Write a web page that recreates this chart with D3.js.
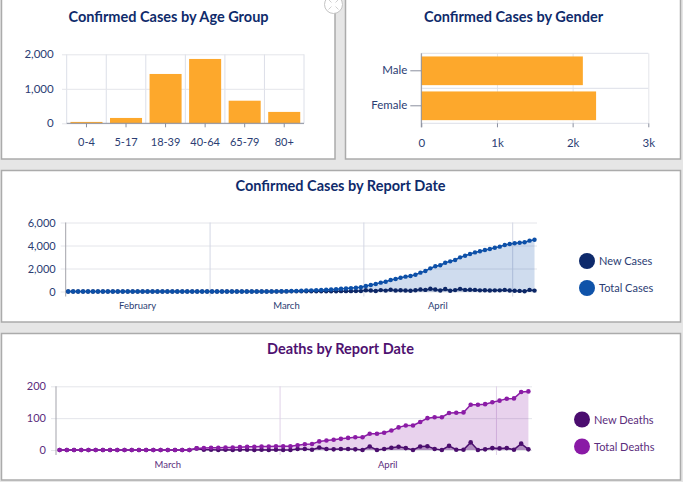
<!DOCTYPE html>
<html>
<head>
<meta charset="utf-8">
<script src="https://cdn.jsdelivr.net/npm/d3@7"></script>
<style>
  body { margin: 0; background: #e6e6e6; font-family: Lato, "Open Sans", sans-serif; }
  svg { display: block; }
  .grid line { stroke: #e4e5ea; }
  .grid path { display: none; }
</style>
</head>
<body>
<svg id="chart" width="683" height="482"></svg>
<script>
// ---- data ----
var ageGroups = ["0-4", "5-17", "18-39", "40-64", "65-79", "80+"];
var ageCases = [40, 155, 1430, 1865, 655, 330];
var ageTicks = [0, 1000, 2000];

var genders = ["Male", "Female"];
var genderCases = [2135, 2310];
var genderTicks = [0, 1000, 2000, 3000];

var caseTicks = [0, 2000, 4000, 6000];
var deathTicks = [0, 100, 200];
var caseMonths = ["2020-02-01", "2020-03-01", "2020-04-01", "2020-05-01"];
var deathMonths = ["2020-03-01", "2020-04-01", "2020-05-01"];
var axisEnd = "2020-05-06";

// daily, Feb 1 .. May 5
var casesStart = "2020-02-01";
var totalCases = [
  0,0,0,0,0,0,0,0,0,0,0,0,0,0,0,0,0,0,0,0,0,0,0,0,0,0,0,0,0,0,0,0,0,0,0,0,0,0,
  1,2,4,8,12,18,26,38,52,68,85,100,118,135,155,178,205,235,265,295,330,365,
  480,565,650,770,850,1000,1090,1200,1290,1350,1460,1640,1780,2015,2190,2280,2500,2620,2740,2970,
  3110,3260,3400,3500,3610,3700,3800,3900,4040,4130,
  4190,4240,4280,4420,4500
];
var newCases = [
  0,0,0,0,0,0,0,0,0,0,0,0,0,0,0,0,0,0,0,0,0,0,0,0,0,0,0,0,0,0,0,0,0,0,0,0,0,0,
  1,1,2,4,4,6,8,12,14,16,17,15,18,17,20,23,27,30,30,30,35,35,
  115,85,40,120,80,150,90,110,90,60,110,180,140,235,175,90,220,60,120,230,
  140,150,140,100,110,90,100,100,140,90,
  60,50,20,140,80
];

// daily, Mar 1 .. May 5
var deathsStart = "2020-03-01";
var totalDeaths = [
  0,0,0,0,0,0,0,0,0,0,0,0,0,0,0,0,0,0,0,
  5,6,7,7,8,8,9,10,10,11,11,12,
  12,12,15,18,19,27,30,32,35,38,40,40,51,51,54,61,71,77,77,88,
  100,103,103,116,117,118,142,142,144,150,155,161,162,182,184
];
var newDeaths = [
  0,0,0,0,0,0,0,0,0,0,0,0,0,0,0,0,0,0,0,
  5,1,1,0,1,0,1,1,0,1,0,1,
  0,0,3,3,1,8,3,2,3,3,2,0,11,0,3,7,10,6,0,11,
  12,3,0,13,1,1,24,0,2,6,5,6,1,20,2
];

var parse = d3.utcParse("%Y-%m-%d");
var svg = d3.select("#chart");

svg.append("rect").attr("width", 683).attr("height", 482).attr("fill", "#e6e6e6");

function panel(x, y, w, h) {
  svg.append("rect").attr("x", x).attr("y", y).attr("width", w).attr("height", h)
    .attr("fill", "#fff").attr("stroke", "#ababab").attr("stroke-width", 1.5);
}
panel(1.5, -3, 333.5, 162);
panel(345.5, -3, 335, 162);
panel(1.5, 170.5, 679, 151.5);
panel(1.5, 333.5, 679, 146.5);

function title(txt, x, y, color) {
  svg.append("text").attr("x", x).attr("y", y).attr("text-anchor", "middle")
    .attr("font-size", 14.5).attr("font-weight", 700).attr("fill", color).text(txt);
}

var navy = "#0f2b6b", navyTxt = "#2b3d73";
var orange = "#fda82c";

// ---------- age group ----------
(function () {
  var x = d3.scaleBand().domain(ageGroups).range([66.7, 304]).paddingInner(0.19).paddingOuter(0.095);
  var y = d3.scaleLinear().domain([0, 2000]).range([123.3, 54.3]);
  var g = svg.append("g");
  // band boundary gridlines
  var bounds = ageGroups.map(function (d) { return x(d) - x.step() * x.paddingInner() / 2; });
  bounds.push(304);
  g.selectAll("line.vg").data(bounds).join("line")
    .attr("x1", function (d) { return d; }).attr("x2", function (d) { return d; })
    .attr("y1", y(2000)).attr("y2", y(0)).attr("stroke", "#dcdfe8");
  g.append("g").attr("class", "grid").attr("transform", "translate(304,0)")
    .call(d3.axisLeft(y).tickValues(ageTicks).tickSize(242).tickFormat(""));
  g.selectAll("rect.bar").data(ageCases).join("rect")
    .attr("x", function (d, i) { return x(ageGroups[i]); })
    .attr("width", x.bandwidth())
    .attr("y", function (d) { return y(d); })
    .attr("height", function (d) { return y(0) - y(d); })
    .attr("fill", orange);
  g.append("line").attr("x1", 66.7).attr("x2", 304).attr("y1", y(0)).attr("y2", y(0)).attr("stroke", "#8a8f9e");
  var xa = g.append("g").attr("transform", "translate(0," + y(0) + ")")
    .call(d3.axisBottom(x).tickSize(4).tickPadding(11).tickSizeOuter(0));
  xa.select(".domain").remove();
  xa.selectAll("line").attr("stroke", "#8a8f9e");
  xa.selectAll("text").attr("font-size", 11).attr("fill", navyTxt).attr("font-family", "Lato");
  var ya = g.append("g").attr("transform", "translate(66.7,0)")
    .call(d3.axisLeft(y).tickValues(ageTicks).tickSize(0).tickPadding(13).tickFormat(d3.format(",")));
  ya.select(".domain").remove();
  ya.selectAll("text").attr("font-size", 11.5).attr("fill", navyTxt).attr("font-family", "Lato");
  title("Confirmed Cases by Age Group", 168.5, 22, navy);
})();

// ---------- gender ----------
(function () {
  var x = d3.scaleLinear().domain([0, 3000]).range([421.3, 648.3]);
  var y = d3.scaleBand().domain(genders).range([53.3, 123.3]).paddingInner(0.18).paddingOuter(0.09);
  var g = svg.append("g");
  g.append("g").attr("class", "grid").attr("transform", "translate(0,123.3)")
    .call(d3.axisBottom(x).tickValues(genderTicks).tickSize(-70).tickFormat(""));
  g.selectAll("line.hg").data([53.3, 88.3, 123.3]).join("line")
    .attr("x1", 421.3).attr("x2", 648.3).attr("y1", function (d) { return d; }).attr("y2", function (d) { return d; })
    .attr("stroke", "#dcdfe8");
  g.selectAll("rect.bar").data(genderCases).join("rect")
    .attr("x", x(0))
    .attr("y", function (d, i) { return y(genders[i]); })
    .attr("height", y.bandwidth())
    .attr("width", function (d) { return x(d) - x(0); })
    .attr("fill", orange);
  var xa = g.append("g").attr("transform", "translate(0,123.3)")
    .call(d3.axisBottom(x).tickValues(genderTicks).tickSize(4).tickPadding(12).tickSizeOuter(0)
      .tickFormat(function (d) { return d === 0 ? "0" : (d / 1000) + "k"; }));
  xa.select(".domain").remove();
  xa.selectAll("line").attr("stroke", "#8a8f9e");
  xa.selectAll("text").attr("font-size", 11.5).attr("fill", navyTxt).attr("font-family", "Lato");
  var ya = g.append("g").attr("transform", "translate(421.3,0)")
    .call(d3.axisLeft(y).tickSize(11).tickPadding(3).tickSizeOuter(0));
  ya.select(".domain").attr("stroke", "#8a8f9e").attr("d", "M0,53.3V127.3");
  ya.selectAll("line").attr("stroke", "#8a8f9e");
  ya.selectAll("text").attr("font-size", 11.5).attr("fill", navyTxt).attr("font-family", "Lato");
  title("Confirmed Cases by Gender", 513.5, 22, navy);
})();

// ---------- time series ----------
function timeChart(o) {
  var start = parse(o.start);
  var dates = o.total.map(function (d, i) { return d3.utcHour.offset(d3.utcDay.offset(start, i), 12); });
  var months = o.months.map(parse);
  var x = d3.scaleUtc().domain([months[0], parse(axisEnd)]).range(o.xr);
  var y = d3.scaleLinear().domain([0, o.ymax]).range(o.yr);
  var g = svg.append("g");

  g.append("g").attr("class", "grid").attr("transform", "translate(" + o.xr[1] + ",0)")
    .call(d3.axisLeft(y).tickValues(o.yticks).tickSize(o.xr[1] - o.xr[0] + 5).tickFormat(""));
  var vg = g.append("g").attr("transform", "translate(0," + (o.yr[0] + 5) + ")")
    .call(d3.axisBottom(x).tickValues(months.slice(1)).tickSize(-(o.yr[0] - o.yr[1] + 5)).tickFormat(""));
  vg.select(".domain").remove();
  vg.selectAll("line").attr("stroke", o.vgrid);

  // month labels, centred in each month cell
  var cells = months.map(function (m, i) {
    var end = i + 1 < months.length ? months[i + 1] : parse(axisEnd);
    return { name: d3.utcFormat("%B")(m), mid: (x(m) + x(end)) / 2, w: x(end) - x(m) };
  }).filter(function (c) { return c.w > 60; });
  g.selectAll("text.month").data(cells).join("text")
    .attr("x", function (d) { return d.mid; }).attr("y", o.yr[0] + 17.5)
    .attr("text-anchor", "middle").attr("font-size", 9.5).attr("fill", o.txt).text(function (d) { return d.name; });

  var ya = g.append("g").attr("transform", "translate(" + o.xr[0] + ",0)")
    .call(d3.axisLeft(y).tickValues(o.yticks).tickSize(0).tickPadding(10).tickFormat(d3.format(",")));
  ya.select(".domain").attr("stroke", "#a3a3ab").attr("d", "M0," + o.yr[1] + "V" + (o.yr[0] + 5));
  ya.selectAll("text").attr("font-size", 11).attr("fill", o.txt).attr("font-family", "Lato");

  var area = d3.area().x(function (d, i) { return x(dates[i]); }).y0(y(0)).y1(function (d) { return y(d); });
  var line = d3.line().x(function (d, i) { return x(dates[i]); }).y(function (d) { return y(d); });

  g.append("path").datum(o.total).attr("d", area).attr("fill", o.cTotal).attr("fill-opacity", 0.2);
  g.append("path").datum(o.newer).attr("d", area).attr("fill", o.cNew).attr("fill-opacity", 0.35);
  [[o.newer, o.cNew], [o.total, o.cTotal]].forEach(function (s) {
    g.append("path").datum(s[0]).attr("d", line).attr("fill", "none")
      .attr("stroke", s[1]).attr("stroke-width", 1.5);
    g.selectAll(null).data(s[0]).join("circle")
      .attr("cx", function (d, i) { return x(dates[i]); })
      .attr("cy", function (d) { return y(d); })
      .attr("r", o.r).attr("fill", s[1]);
  });

  // legend
  var lg = g.append("g");
  o.legend.forEach(function (l, i) {
    lg.append("circle").attr("cx", o.lx).attr("cy", o.ly + i * 27).attr("r", 8).attr("fill", l[1]);
    lg.append("text").attr("x", o.lx + 12).attr("y", o.ly + i * 27 + 4).attr("font-size", 11)
      .attr("fill", o.txt).text(l[0]);
  });
  title(o.title, 340.5, o.ty, o.tc);
}

timeChart({
  start: casesStart, total: totalCases, newer: newCases, months: caseMonths,
  xr: [65.7, 537], yr: [291.5, 222.5], ymax: 6000, yticks: caseTicks,
  cTotal: "#0d50a8", cNew: "#0d2766", vgrid: "#d3d7e4", txt: navyTxt, r: 2.2,
  legend: [["New Cases", "#0e2a6b"], ["Total Cases", "#0f53a9"]], lx: 587, ly: 261,
  title: "Confirmed Cases by Report Date", ty: 191, tc: navy
});

timeChart({
  start: deathsStart, total: totalDeaths, newer: newDeaths, months: deathMonths,
  xr: [56, 532], yr: [450, 386.3], ymax: 200, yticks: deathTicks,
  cTotal: "#8b1ca6", cNew: "#4b0e6e", vgrid: "#e0d2e8", txt: "#5b2d7d", r: 2.3,
  legend: [["New Deaths", "#4b0d6f"], ["Total Deaths", "#8a1aa6"]], lx: 582, ly: 419.5,
  title: "Deaths by Report Date", ty: 354, tc: "#4e1170"
});

// expand icon peeking in at the top
var ic = svg.append("g").attr("transform", "translate(333.5,4.5)");
ic.append("circle").attr("r", 9).attr("fill", "#fff").attr("stroke", "#c4c4c4");
[[-1, -1], [1, -1], [-1, 1], [1, 1]].forEach(function (s) {
  ic.append("line").attr("x1", s[0] * 2).attr("y1", s[1] * 2).attr("x2", s[0] * 5).attr("y2", s[1] * 5)
    .attr("stroke", "#c4c4c4").attr("stroke-width", 0.8);
});
</script>
</body>
</html>
